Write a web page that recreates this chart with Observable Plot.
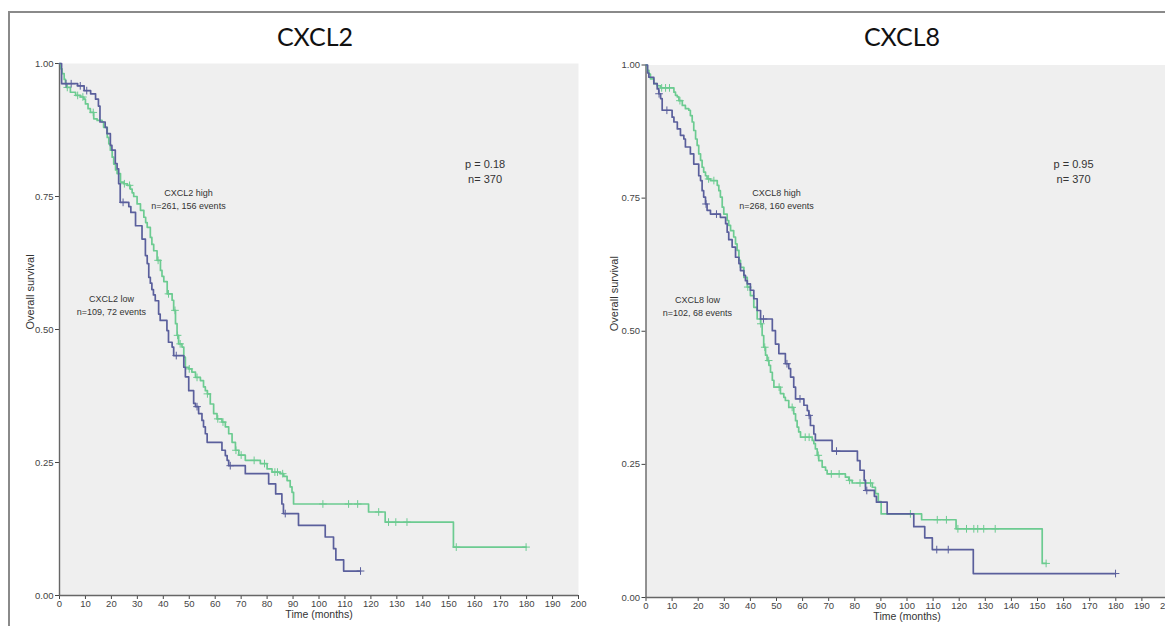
<!DOCTYPE html>
<html>
<head>
<meta charset="utf-8">
<script src="https://cdn.jsdelivr.net/npm/d3@7"></script>
<script src="https://cdn.jsdelivr.net/npm/@observablehq/plot@0.6"></script>
<style>
  html, body { margin: 0; padding: 0; background: #fff; overflow: hidden; }
  #page { position: relative; width: 1165px; height: 626px; overflow: hidden; background: #fff; }
  .panel { position: absolute; top: 50px; width: 590px; height: 576px; }
  .title { position: absolute; top: 19px; width: 300px; text-align: center; font-family: Lato, "Open Sans", sans-serif; font-size: 25px; line-height: 34px; color: #111; }
  .hline { position: absolute; left: 8px; top: 11px; width: 1157px; height: 2px; background: #8a8a8a; z-index: 5; }
  .vline { position: absolute; left: 8px; top: 11px; width: 2px; height: 615px; background: #8a8a8a; z-index: 5; }
</style>
</head>
<body>
<div id="page">
  <div class="hline"></div>
  <div class="vline"></div>
  <div class="title" style="left:165px">CXCL2</div>
  <div class="title" style="left:752px">CXCL8</div>
  <div class="panel" id="p1" style="left:0px"></div>
  <div class="panel" id="p2" style="left:590px"></div>
</div>
<script>
// ---------- tick labels ----------
const timeTicks = [0,10,20,30,40,50,60,70,80,90,100,110,120,130,140,150,160,170,180,190,200];
const survTicks = [0, 0.25, 0.5, 0.75, 1];

// ---------- CXCL2 ----------
const cxcl2LowTime = [0,0.8,7,9.5,12,13.9,15,15.6,17.6,18.3,19.6,20.2,21.5,22.2,22.8,23.4,26.7,27.5,29.3,31.8,33.1,33.8,34.4,35,35.6,36.2,36.9,38.2,38.8,41.4,42,43.4,44,47.9,48.5,49.8,51.7,52.4,53.6,54.9,55.5,56.2,56.9,62.6,63.9,64.6,65.2,71.6,80.6,83.3,85.7,86.3,92.1,102.4,105.6,106.5,109.5,116];
const cxcl2LowSurv = [1,0.962,0.958,0.949,0.943,0.933,0.92,0.89,0.88,0.868,0.846,0.837,0.812,0.802,0.774,0.739,0.731,0.72,0.695,0.67,0.639,0.624,0.598,0.587,0.575,0.565,0.554,0.529,0.517,0.498,0.476,0.467,0.451,0.429,0.411,0.385,0.361,0.355,0.342,0.329,0.317,0.304,0.288,0.273,0.263,0.254,0.244,0.229,0.21,0.191,0.172,0.154,0.132,0.11,0.088,0.067,0.046,0.046];
const cxcl2LowCensor = [2.5,4.5,8,10.5,24.5,45,53,65.8,87,116];

const cxcl2HighTime = [0,0.5,1,1.8,2.3,2.8,4.2,6.2,8.1,9.4,10,11,11.9,13.2,14.5,16.4,17,18.4,19,19.6,20.3,20.9,21.6,22.2,23.5,24.8,26.1,27.3,28,28.6,29.9,31.2,32.5,33.2,33.8,35,35.6,36.3,37.6,38.9,39.5,40.2,41.5,43.4,44,44.7,45.3,45.9,47.2,47.9,48.5,49.8,51,52.4,54.3,55.5,56.2,57,58.1,59.4,60.7,62.6,63.9,65.2,66.5,67.8,69.1,71.6,77.4,80,81.9,85.1,86.4,87.7,88.9,89.6,90.2,119.1,125.5,151.8,179.8];
const cxcl2HighSurv = [1,0.99,0.981,0.97,0.962,0.955,0.946,0.94,0.937,0.933,0.924,0.915,0.908,0.896,0.893,0.89,0.88,0.861,0.849,0.837,0.824,0.811,0.8,0.793,0.777,0.774,0.771,0.764,0.757,0.75,0.736,0.724,0.711,0.701,0.692,0.673,0.66,0.648,0.63,0.611,0.6,0.59,0.567,0.555,0.536,0.511,0.489,0.473,0.467,0.448,0.429,0.426,0.42,0.41,0.404,0.392,0.385,0.379,0.36,0.342,0.332,0.326,0.317,0.304,0.288,0.273,0.264,0.254,0.248,0.238,0.232,0.229,0.224,0.216,0.204,0.194,0.172,0.157,0.138,0.091,0.091];
const cxcl2HighCensor = [3,7,9,13,25,27,38,42,44.5,45.5,46.5,50,53,57,61,63,68,70,75,79,83,84,86,101.5,111.4,114.9,123,126.8,129.6,133.9,152.9,179.8];

// ---------- CXCL8 ----------
const cxcl8LowTime = [0,0.6,1.1,3,4.3,4.9,5.6,6.2,10,10.7,12,13.2,14.5,15.1,17,18.3,20.2,20.9,21.5,22.1,22.8,23.4,24.7,28.5,30.5,31.1,31.7,33,34.3,35.6,36.2,37.5,38.1,38.8,40,41.3,42.6,43.9,48.4,49.6,50.9,53.4,54.7,55.4,56.6,57.3,60.5,61.8,62.4,63,64.3,64.9,71.3,81,82,83.6,84.1,87.5,88.3,92.4,102.6,106.8,109.7,125.4,179.9];
const cxcl8LowSurv = [1,0.985,0.977,0.965,0.955,0.946,0.937,0.915,0.902,0.893,0.88,0.868,0.861,0.846,0.833,0.814,0.792,0.783,0.764,0.752,0.739,0.727,0.72,0.714,0.702,0.686,0.672,0.658,0.639,0.627,0.614,0.605,0.595,0.589,0.577,0.561,0.539,0.523,0.501,0.476,0.458,0.439,0.43,0.414,0.395,0.373,0.361,0.351,0.342,0.323,0.307,0.295,0.275,0.257,0.239,0.22,0.201,0.19,0.179,0.157,0.133,0.112,0.09,0.045,0.045];
const cxcl8LowCensor = [5,8,23,27,45,54,59,62.5,73,84.6,111.4,115.8,179.9];

const cxcl8HighTime = [0,0.5,1.1,1.7,3,4.3,5.6,10.7,11.3,12,12.6,13.9,15.1,16.4,17,17.7,18.3,19,19.6,20.2,20.9,21.5,22.1,22.8,23.4,24.7,27.3,27.9,28.5,29.2,29.8,31.1,31.7,32.4,33.6,34.3,34.9,35.6,36.2,37.5,38.8,40,41.3,42.6,43.9,44.5,45.1,45.8,46.4,47.1,47.7,48.4,49,51.5,52.8,53.4,54.7,56.6,57.3,57.9,58.5,59.2,63.7,64.3,64.9,65.6,66.2,67.5,68.8,69.4,76.4,77.7,79,86.7,87.9,89,90.1,105.6,118.8,151.8,153.3];
const cxcl8HighSurv = [1,0.99,0.983,0.974,0.965,0.961,0.957,0.949,0.943,0.94,0.933,0.924,0.918,0.915,0.905,0.893,0.877,0.861,0.849,0.833,0.821,0.808,0.799,0.792,0.786,0.783,0.774,0.764,0.752,0.733,0.72,0.708,0.699,0.689,0.677,0.664,0.652,0.633,0.62,0.601,0.583,0.567,0.545,0.523,0.514,0.492,0.47,0.455,0.445,0.436,0.423,0.408,0.395,0.383,0.376,0.37,0.357,0.345,0.332,0.32,0.311,0.301,0.295,0.289,0.279,0.267,0.257,0.245,0.239,0.232,0.226,0.22,0.215,0.207,0.195,0.18,0.157,0.146,0.129,0.064,0.064];
const cxcl8HighCensor = [6,7.5,9,13,24,26,39,44,45.5,47,51,56,61,62.5,66,71,74,78,82,84,86,101.3,111.6,115.1,119.5,122.8,125.6,127.1,129.4,133.8,153.3];

// ---------- text ----------
const panelNames = ["CXCL2", "CXCL8"];
const pValues = ["p = 0.18\nn= 370", "p = 0.95\nn= 370"];
const highLabels = ["CXCL2 high\nn=261, 156 events", "CXCL8 high\nn=268, 160 events"];
const lowLabels = ["CXCL2 low\nn=109, 72 events", "CXCL8 low\nn=102, 68 events"];

const BLUE = "#5a5f9c";
const GREEN = "#6ccb91";

function steps(times, surv) { return times.map((t, i) => ({t, s: surv[i]})); }
function censorPts(times, surv, cens) {
  return cens.map(t => {
    const i = Math.max(0, d3.bisectRight(times, t) - 1);
    return {t, s: surv[i]};
  });
}

function panel(cfg) {
  const low = steps(cfg.lowT, cfg.lowS);
  const high = steps(cfg.highT, cfg.highS);
  const lowC = censorPts(cfg.lowT, cfg.lowS, cfg.lowC);
  const highC = censorPts(cfg.highT, cfg.highS, cfg.highC);
  return Plot.plot({
    width: 590, height: 576,
    marginLeft: cfg.ml, marginRight: cfg.mr, marginTop: cfg.mt, marginBottom: cfg.mb,
    style: {fontFamily: "'Liberation Sans', Arial, sans-serif", fontSize: "9px", color: "#444", background: "transparent"},
    x: {domain: [0, 200]},
    y: {domain: [0, 1]},
    marks: [
      Plot.frame({fill: "#efefef", stroke: null}),
      Plot.axisX({ticks: timeTicks, tickSize: 4, tickPadding: 1, label: null, fontSize: 9.5}),
      Plot.axisY({ticks: survTicks, tickFormat: ".2f", tickSize: 4, tickPadding: 2, label: null, fontSize: 9.5}),
      Plot.ruleX([0], {stroke: "#666", strokeWidth: 1.4}),
      Plot.ruleY([0], {stroke: "#666", strokeWidth: 1.4}),
      Plot.line(high, {x: "t", y: "s", curve: "step-after", stroke: GREEN, strokeWidth: 1.7}),
      Plot.dot(highC, {x: "t", y: "s", symbol: "plus", r: 2.6, stroke: GREEN, strokeWidth: 1}),
      Plot.line(low, {x: "t", y: "s", curve: "step-after", stroke: BLUE, strokeWidth: 1.7}),
      Plot.dot(lowC, {x: "t", y: "s", symbol: "plus", r: 2.6, stroke: BLUE, strokeWidth: 1}),
      Plot.text([cfg.pText], {x: () => cfg.pPos[0], y: () => cfg.pPos[1], fontSize: 11, lineHeight: 1.35, fill: "#333"}),
      Plot.text([cfg.highText], {x: () => cfg.highPos[0], y: () => cfg.highPos[1], fontSize: 9, lineHeight: 1.45, fill: "#333"}),
      Plot.text([cfg.lowText], {x: () => cfg.lowPos[0], y: () => cfg.lowPos[1], fontSize: 9, lineHeight: 1.45, fill: "#333"}),
      Plot.text(["Time (months)"], {frameAnchor: "bottom", dy: 22.5, fontSize: 10.5, fill: "#333"}),
      Plot.text(["Overall survival"], {frameAnchor: "left", dx: cfg.ylabDx, rotate: -90, fontSize: 11, fill: "#333"})
    ]
  });
}

document.getElementById("p1").append(panel({
  lowT: cxcl2LowTime, lowS: cxcl2LowSurv, lowC: cxcl2LowCensor,
  highT: cxcl2HighTime, highS: cxcl2HighSurv, highC: cxcl2HighCensor,
  pText: pValues[0], highText: highLabels[0], lowText: lowLabels[0],
  pPos: [164, 0.798], highPos: [49.7, 0.747], lowPos: [20, 0.548],
  ml: 59, mr: 12, mt: 13, mb: 31, ylabDx: -29
}));
document.getElementById("p2").append(panel({
  lowT: cxcl8LowTime, lowS: cxcl8LowSurv, lowC: cxcl8LowCensor,
  highT: cxcl8HighTime, highS: cxcl8HighSurv, highC: cxcl8HighCensor,
  pText: pValues[1], highText: highLabels[1], lowText: lowLabels[1],
  pPos: [163.8, 0.801], highPos: [50, 0.75], lowPos: [19.7, 0.549],
  ml: 55.5, mr: 12.5, mt: 14.5, mb: 29, ylabDx: -32
}));
</script>
</body>
</html>
